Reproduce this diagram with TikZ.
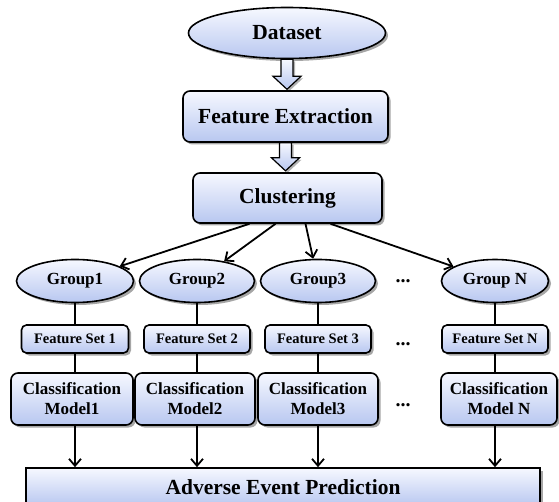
\documentclass[tikz,border=0pt]{standalone}
\usepackage{fontspec}
\setmainfont{Liberation Serif}
\usetikzlibrary{shapes.geometric,shadows,arrows.meta,calc}
\definecolor{boxtop}{RGB}{246,248,255}
\definecolor{boxbot}{RGB}{184,199,240}
\begin{document}
\begin{tikzpicture}[x=1pt,y=-1pt,
  base/.style={draw=black, line width=1.6pt, top color=boxtop, bottom color=boxbot,
    drop shadow={shadow xshift=2.5pt,shadow yshift=-2.5pt,fill=black,opacity=0.35},
    inner sep=0pt, align=center},
  ell/.style={base, ellipse},
  rbox/.style={base, rectangle, rounded corners=7pt},
  big/.style={font=\bfseries\fontsize{21.5}{24}\selectfont},
  mid/.style={font=\bfseries\fontsize{17}{20}\selectfont},
  small/.style={font=\bfseries\fontsize{14.5}{16}\selectfont},
  conn/.style={line width=1.8pt, draw=black},
  arr/.style={conn, -{Straight Barb[length=7pt,width=12pt]}},
  blk/.style={draw=black, line width=1.2pt, top color=boxtop, bottom color=boxbot, line join=miter,
    drop shadow={shadow xshift=2pt,shadow yshift=-2pt,fill=black,opacity=0.3}},
  dotsnode/.style={font=\bfseries\fontsize{20}{20}\selectfont, inner sep=0pt}
]
\useasboundingbox (0,0) rectangle (559,502);
\clip (0,0) rectangle (559,502);

% top chain
\node[ell, big, minimum width=197pt, minimum height=51pt] (ds) at (287,33) {Dataset};
\node[rbox, big, minimum width=205pt, minimum height=51pt] (fe) at (285.5,116.5) {Feature Extraction};
\node[rbox, big, minimum width=189pt, minimum height=50pt] (cl) at (287.5,198) {Clustering};

% block arrows
\path[blk] ($(ds.south)+(-6,0)$) -- ++(0,17) -- ++(-8,0) -- ($(ds.south)+(0,30)$)
  -- ($(ds.south)+(14,17)$) -- ++(-8,0) -- ($(ds.south)+(6,0)$) -- cycle;
\path[blk] ($(fe.south)+(-6,0)$) -- ++(0,15) -- ++(-8,0) -- ($(fe.south)+(0,28)$)
  -- ($(fe.south)+(14,15)$) -- ++(-8,0) -- ($(fe.south)+(6,0)$) -- cycle;

% groups
\node[ell, mid, minimum width=117pt, minimum height=43pt] (g1) at (75,281) {Group1};
\node[ell, mid, minimum width=115pt, minimum height=43pt] (g2) at (197,281) {Group2};
\node[ell, mid, minimum width=115pt, minimum height=43pt] (g3) at (318,281) {Group3};
\node[ell, mid, minimum width=107pt, minimum height=43pt] (gN) at (495,281) {Group N};

% feature sets
\node[rbox, small, rounded corners=5pt, minimum width=107pt, minimum height=28pt] (fs1) at (75,339) {Feature Set 1};
\node[rbox, small, rounded corners=5pt, minimum width=106pt, minimum height=28pt] (fs2) at (197,339) {Feature Set 2};
\node[rbox, small, rounded corners=5pt, minimum width=106pt, minimum height=28pt] (fs3) at (318,339) {Feature Set 3};
\node[rbox, small, rounded corners=5pt, minimum width=106pt, minimum height=28pt] (fsN) at (495,339) {Feature Set N};

% classification models
\node[rbox, mid, minimum width=122pt, minimum height=52pt] (cm1) at (72,399) {Classification\\Model1};
\node[rbox, mid, minimum width=120pt, minimum height=52pt] (cm2) at (195,399) {Classification\\Model2};
\node[rbox, mid, minimum width=120pt, minimum height=52pt] (cm3) at (318,399) {Classification\\Model3};
\node[rbox, mid, minimum width=116pt, minimum height=52pt] (cmN) at (499,399) {Classification\\Model N};

% prediction
\node[base, rectangle, big, minimum width=514pt, minimum height=38pt] (aep) at (283,487) {Adverse Event Prediction};

% dots
\node[dotsnode] (d1) at (403,281) {...};
\node[dotsnode] (d2) at (403,344) {...};
\node[dotsnode] (d3) at (403,405) {...};

% clustering to groups
\draw[arr] ($(cl.south)+(-38,0)$) -- (g1);
\draw[arr] ($(cl.south)+(-12,0)$) -- (g2);
\draw[arr] ($(cl.south)+(18,0)$) -- (g3);
\draw[arr] ($(cl.south)+(43,0)$) -- (gN);

% vertical chains
\foreach \g/\f/\c in {g1/fs1/cm1, g2/fs2/cm2, g3/fs3/cm3, gN/fsN/cmN}{
  \draw[conn] (\g.south) -- (\g.south |- \f.north);
  \draw[conn] (\g.south |- \f.south) -- (\g.south |- \c.north);
  \draw[arr] (\g.south |- \c.south) -- (\g.south |- aep.north);
}
\end{tikzpicture}
\end{document}
